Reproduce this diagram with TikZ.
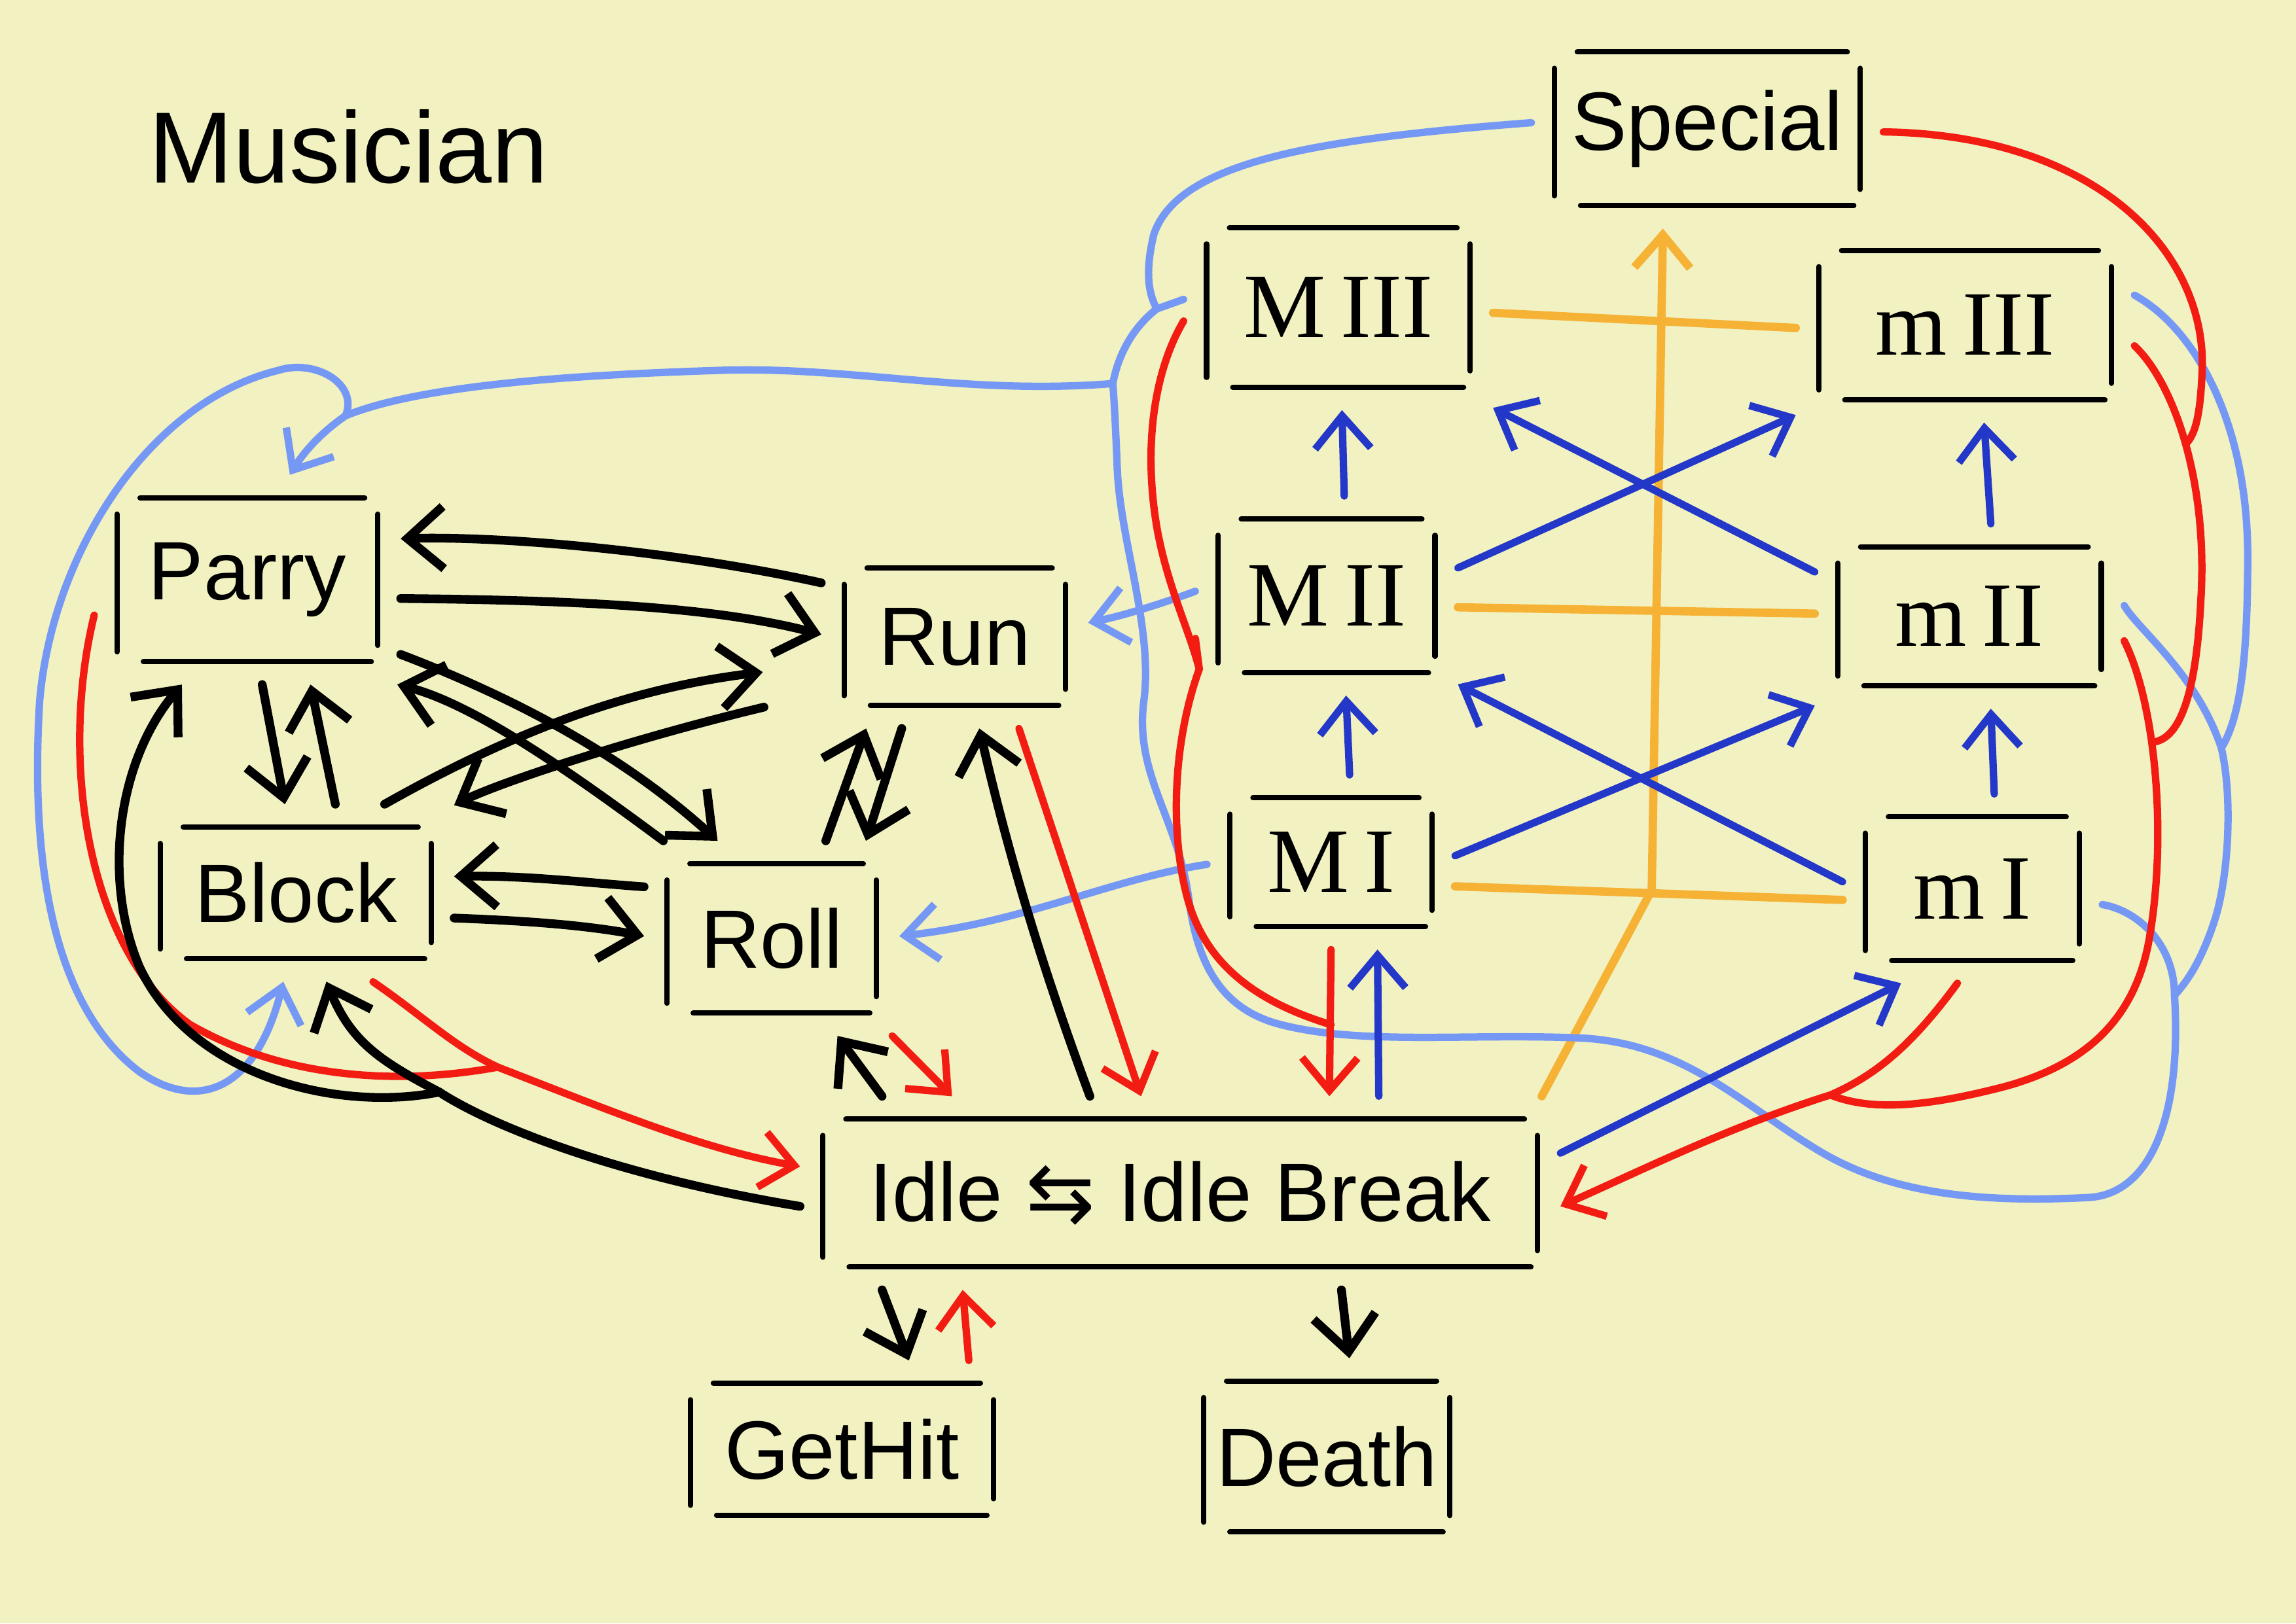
\documentclass[tikz,border=0pt]{standalone}
\usepackage{fontspec}
\setmainfont{Liberation Sans}
\newfontfamily\romanfont{Liberation Serif}
\newfontfamily\arrowfont{DejaVu Sans}
\usetikzlibrary{arrows.meta}

\definecolor{paper}{RGB}{241,241,193}
\definecolor{skyline}{RGB}{118,152,245}
\definecolor{inkblue}{RGB}{35,55,200}
\definecolor{inkred}{RGB}{242,28,18}
\definecolor{inkorange}{RGB}{246,178,52}

\tikzset{
  state/.style 2 args={rectangle, minimum width=#1*0.2237mm, minimum height=#2*0.2237mm,
    inner sep=0pt, outer sep=3.5mm, font=\fontsize{36}{40}\selectfont},
  roman/.style={font=\romanfont\fontsize{40}{44}\selectfont},
  frame/.style={draw=black, line width=2.3pt, line cap=round},
  blk/.style={draw=black, line width=3.8pt, line cap=round, line join=round,
    >={Straight Barb[length=5.5mm, width=9.5mm]}},
  redl/.style={draw=inkred, line width=3.2pt, line cap=round},
  skyl/.style={draw=skyline, line width=3.2pt, line cap=round},
  inkl/.style={draw=inkblue, line width=3.2pt, line cap=round},
  orgl/.style={draw=inkorange, line width=3.6pt, line cap=round},
  >={Straight Barb[length=5mm, width=8.5mm]}
}

% open hand-drawn frame round a state
\newcommand{\sketchframe}[1]{%
  \draw[frame] ([shift={(7mm,-3.5mm)}]#1.north west) -- ([shift={(-5.5mm,-3.5mm)}]#1.north east);
  \draw[frame] ([shift={(7.5mm,3.5mm)}]#1.south west) -- ([shift={(-4.5mm,3.5mm)}]#1.south east);
  \draw[frame] ([shift={(3.5mm,-6mm)}]#1.north west) -- ([shift={(3.5mm,5mm)}]#1.south west);
  \draw[frame] ([shift={(-3.5mm,-6mm)}]#1.north east) -- ([shift={(-3.5mm,6mm)}]#1.south east);
}

\begin{document}
\begin{tikzpicture}[x=0.2237mm, y=-0.2237mm]
  \fill[paper] (0,0) rectangle (1568,1109);
  \useasboundingbox (0,0) rectangle (1568,1109);

  % states
  \node[font=\fontsize{44}{48}\selectfont] (title) at (238,100) {Musician};
  \node[state={209}{105}] (special) at (1166,88) {Special};
  \node[state={180}{109}, roman] (mjIII) at (914,210) {M\,III};
  \node[state={200}{102}, roman] (mnIII) at (1342,222) {m\,III};
  \node[state={148}{105}, roman] (mjII) at (906,407) {M\,II};
  \node[state={180}{95}, roman] (mnII) at (1345,421) {m\,II};
  \node[state={138}{88}, roman] (mjI) at (909,589) {M\,I};
  \node[state={146}{98}, roman] (mnI) at (1347,607) {m\,I};
  \node[state={178}{112}] (parry) at (169,396) {Parry};
  \node[state={151}{94}] (run) at (652,435) {Run};
  \node[state={185}{90}] (block) at (202,610) {Block};
  \node[state={143}{102}] (roll) at (527,641) {Roll};
  \node[state={488}{101}] (idle) at (806,815) {Idle {\arrowfont ⇆} Idle Break};
  \node[state={207}{90}] (gethit) at (575,990) {GetHit};
  \node[state={168}{103}] (death) at (906,995) {Death};

  \foreach \n in {special,mjIII,mnIII,mjII,mnII,mjI,mnI,parry,run,block,roll,idle,gethit,death}
    \sketchframe{\n};

  % junctions
  \coordinate (hub) at (790,211);
  \coordinate (hubL) at (760,262);
  \coordinate (blueB) at (236,284);
  \coordinate (blueT) at (1517,511);
  \coordinate (blueR) at (1485,680);
  \coordinate (redA) at (1493,303);
  \coordinate (redB) at (1470,507);
  \coordinate (redC) at (1250,748);
  \coordinate (redD) at (819,457);
  \coordinate (redE) at (909,700);
  \coordinate (rmerge) at (340,729);
  \coordinate (kb) at (300,746);
  \coordinate (orj) at (1128,608);

  % orange
  \draw[orgl] (mjIII.-2) -- (mnIII.181);
  \draw[orgl] (mjII.-5) -- (mnII.179);
  \draw[orgl] (mjI.-11) -- (mnI.-175);
  \draw[orgl,->] (idle.15) -- (orj) -- (special.-114);

  % light blue
  \draw[skyl] (special.178) .. controls (900,95) and (805,110) .. (788,160) .. controls (782,185) and (784,200) .. (hub);
  \draw[skyl] (mjIII.177) -- (hub) .. controls (772,225) and (763,245) .. (hubL);
  \draw[skyl,->] (hubL) .. controls (660,270) and (580,250) .. (491,253) .. controls (400,256) and (290,262) .. (blueB) .. controls (220,295) and (208,308) .. (parry.68);
  \draw[skyl,->] (blueB) .. controls (245,262) and (215,245) .. (190,253) .. controls (100,275) and (35,380) .. (27,480) .. controls (20,600) and (40,690) .. (95,732) .. controls (135,760) and (175,745) .. (block.-98);
  \draw[skyl] (mnI.-7) .. controls (1460,622) and (1485,645) .. (blueR) .. controls (1490,760) and (1470,815) .. (1427,818) .. controls (1350,822) and (1290,815) .. (1242,786) .. controls (1190,755) and (1150,712) .. (1078,709) .. controls (1000,706) and (930,714) .. (875,700) .. controls (835,690) and (818,660) .. (812,615) .. controls (805,560) and (775,530) .. (781,480) .. controls (788,430) and (765,370) .. (763,320) .. controls (762,295) and (761,275) .. (hubL);
  \draw[skyl] (mnIII.10) .. controls (1500,225) and (1535,290) .. (1535,380) .. controls (1535,450) and (1530,490) .. (blueT);
  \draw[skyl] (mnII.4) .. controls (1460,430) and (1500,460) .. (blueT) .. controls (1525,545) and (1522,600) .. (1512,630) .. controls (1502,660) and (1492,672) .. (blueR);
  \draw[skyl,->] (mjII.178) .. controls (800,410) and (770,420) .. (run.6);
  \draw[skyl,->] (mjI.181) .. controls (760,600) and (700,630) .. (roll.1);

  % dark blue
  \draw[inkl,->] (mjII.80) -- (mjIII.-88);
  \draw[inkl,->] (mjI.78) -- (mjII.-79);
  \draw[inkl,->] (mnII.77) -- (mnIII.-79);
  \draw[inkl,->] (mnI.77) -- (mnII.-77);
  \draw[inkl,->] (mjII.12) -- (mnIII.-152);
  \draw[inkl,->] (mnII.164) -- (mjIII.-33);
  \draw[inkl,->] (mjI.3) -- (mnII.-150);
  \draw[inkl,->] (mnI.177) -- (mjII.-34);
  \draw[inkl,->] (idle.26) -- (mjI.-62);
  \draw[inkl,->] (idle.6) -- (mnI.-127);

  % red
  \draw[redl] (special.-1) .. controls (1430,92) and (1505,170) .. (1504,250) .. controls (1503,280) and (1500,296) .. (redA);
  \draw[redl] (mnIII.-7) .. controls (1485,262) and (1508,330) .. (1503,410) .. controls (1500,470) and (1490,505) .. (redB);
  \draw[redl] (mnII.-9) .. controls (1472,480) and (1480,570) .. (1468,640) .. controls (1458,700) and (1420,728) .. (1370,742) .. controls (1320,755) and (1280,760) .. (redC);
  \draw[redl,->] (mnI.-99) .. controls (1305,715) and (1280,735) .. (redC) .. controls (1180,770) and (1120,800) .. (idle.-2);
  \draw[redl] (mjIII.-175) .. controls (790,250) and (780,300) .. (790,360) .. controls (797,400) and (812,430) .. (redD);
  \draw[redl] (mjII.-162) -- (redD) .. controls (800,510) and (800,570) .. (810,610) .. controls (822,660) and (860,685) .. (redE);
  \draw[redl,->] (mjI.-90) -- (idle.33);
  \draw[redl,->] (run.-55) -- (idle.112);
  \draw[redl,->] (roll.-39) -- (idle.157);
  \draw[redl,->] (gethit.35) -- (idle.-156);
  \draw[redl,->] (block.-49) .. controls (290,695) and (310,715) .. (rmerge) .. controls (420,760) and (480,785) .. (idle.176);
  \draw[redl] (parry.-167) .. controls (40,520) and (60,650) .. (130,700) .. controls (200,740) and (280,740) .. (rmerge);

  % black
  \draw[blk,->] (run.158) .. controls (470,378) and (350,366) .. (parry.15);
  \draw[blk,->] (parry.-7) .. controls (400,410) and (490,415) .. (run.179);
  \draw[blk,->] (parry.-82) -- (block.97);
  \draw[blk,->] (block.66) -- (parry.-59);
  \draw[blk,->] (parry.-26) .. controls (360,480) and (430,520) .. (roll.119);
  \draw[blk,->] (roll.138) .. controls (380,520) and (320,480) .. (parry.-35);
  \draw[blk,->, shorten >=9mm] (block.45) .. controls (350,500) and (430,470) .. (run.-168);
  \draw[blk,->, shorten <=9mm] (run.-157) .. controls (430,505) and (340,535) .. (block.29);
  \draw[blk,->] (block.-9) .. controls (360,629) and (400,632) .. (roll.179);
  \draw[blk,->] (roll.158) .. controls (400,603) and (360,598) .. (block.6);
  \draw[blk,->] (roll.61) -- (run.-134);
  \draw[blk,->] (run.-120) -- (roll.46);
  \draw[blk,->] (idle.133) .. controls (715,670) and (690,590) .. (run.-75);
  \draw[blk,->] (idle.162) -- (roll.-56);
  \draw[blk,->] (idle.182) .. controls (430,805) and (340,772) .. (kb) .. controls (260,725) and (240,712) .. (block.-71);
  \draw[blk,->] (kb) .. controls (230,760) and (130,735) .. (95,660) .. controls (70,600) and (80,520) .. (parry.-122);
  \draw[blk,->] (idle.-162) -- (gethit.53);
  \draw[blk,->] (idle.-31) -- (death.77);
\end{tikzpicture}
\end{document}
